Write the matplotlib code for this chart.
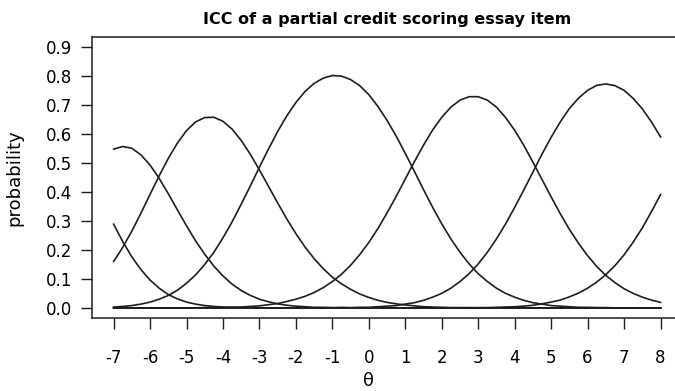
import matplotlib
matplotlib.use("Agg")
import matplotlib.pyplot as plt

# category response probabilities of the essay item, one list per score category
# (one row per unit of theta, quarter steps)
theta = [-7.0, -6.75, -6.5, -6.25,
         -6.0, -5.75, -5.5, -5.25,
         -5.0, -4.75, -4.5, -4.25,
         -4.0, -3.75, -3.5, -3.25,
         -3.0, -2.75, -2.5, -2.25,
         -2.0, -1.75, -1.5, -1.25,
         -1.0, -0.75, -0.5, -0.25,
         0.0, 0.25, 0.5, 0.75,
         1.0, 1.25, 1.5, 1.75,
         2.0, 2.25, 2.5, 2.75,
         3.0, 3.25, 3.5, 3.75,
         4.0, 4.25, 4.5, 4.75,
         5.0, 5.25, 5.5, 5.75,
         6.0, 6.25, 6.5, 6.75,
         7.0, 7.25, 7.5, 7.75,
         8.0]

p_score0 = [0.289, 0.229, 0.176, 0.132,
            0.096, 0.068, 0.046, 0.031,
            0.020, 0.013, 0.008, 0.005,
            0.003, 0.002, 0.001, 0.001,
            0.000, 0.000, 0.000, 0.000,
            0.000, 0.000, 0.000, 0.000,
            0.000, 0.000, 0.000, 0.000,
            0.000, 0.000, 0.000, 0.000,
            0.000, 0.000, 0.000, 0.000,
            0.000, 0.000, 0.000, 0.000,
            0.000, 0.000, 0.000, 0.000,
            0.000, 0.000, 0.000, 0.000,
            0.000, 0.000, 0.000, 0.000,
            0.000, 0.000, 0.000, 0.000,
            0.000, 0.000, 0.000, 0.000,
            0.000]
p_score1 = [0.548, 0.557, 0.551, 0.528,
            0.493, 0.447, 0.394, 0.338,
            0.283, 0.231, 0.185, 0.144,
            0.110, 0.082, 0.060, 0.043,
            0.030, 0.021, 0.014, 0.009,
            0.006, 0.004, 0.002, 0.002,
            0.001, 0.001, 0.000, 0.000,
            0.000, 0.000, 0.000, 0.000,
            0.000, 0.000, 0.000, 0.000,
            0.000, 0.000, 0.000, 0.000,
            0.000, 0.000, 0.000, 0.000,
            0.000, 0.000, 0.000, 0.000,
            0.000, 0.000, 0.000, 0.000,
            0.000, 0.000, 0.000, 0.000,
            0.000, 0.000, 0.000, 0.000,
            0.000]
p_score2 = [0.160, 0.209, 0.265, 0.327,
            0.392, 0.456, 0.516, 0.569,
            0.612, 0.642, 0.657, 0.658,
            0.644, 0.617, 0.578, 0.530,
            0.476, 0.419, 0.362, 0.307,
            0.256, 0.210, 0.170, 0.135,
            0.106, 0.083, 0.064, 0.048,
            0.036, 0.026, 0.019, 0.014,
            0.010, 0.007, 0.004, 0.003,
            0.002, 0.001, 0.001, 0.001,
            0.000, 0.000, 0.000, 0.000,
            0.000, 0.000, 0.000, 0.000,
            0.000, 0.000, 0.000, 0.000,
            0.000, 0.000, 0.000, 0.000,
            0.000, 0.000, 0.000, 0.000,
            0.000]
p_score3 = [0.003, 0.005, 0.008, 0.013,
            0.020, 0.030, 0.043, 0.061,
            0.085, 0.114, 0.150, 0.192,
            0.242, 0.297, 0.358, 0.421,
            0.486, 0.549, 0.609, 0.663,
            0.709, 0.747, 0.775, 0.793,
            0.802, 0.800, 0.788, 0.767,
            0.736, 0.695, 0.647, 0.593,
            0.533, 0.471, 0.408, 0.347,
            0.290, 0.238, 0.192, 0.152,
            0.118, 0.091, 0.068, 0.050,
            0.037, 0.026, 0.018, 0.013,
            0.008, 0.006, 0.004, 0.002,
            0.002, 0.001, 0.001, 0.000,
            0.000, 0.000, 0.000, 0.000,
            0.000]
p_score4 = [0.000, 0.000, 0.000, 0.000,
            0.000, 0.000, 0.000, 0.000,
            0.000, 0.000, 0.001, 0.001,
            0.001, 0.002, 0.003, 0.005,
            0.007, 0.011, 0.015, 0.022,
            0.030, 0.040, 0.053, 0.070,
            0.091, 0.116, 0.147, 0.184,
            0.226, 0.274, 0.328, 0.385,
            0.445, 0.505, 0.562, 0.614,
            0.658, 0.693, 0.717, 0.729,
            0.729, 0.717, 0.693, 0.657,
            0.613, 0.561, 0.503, 0.443,
            0.383, 0.325, 0.271, 0.223,
            0.180, 0.143, 0.112, 0.087,
            0.066, 0.050, 0.037, 0.027,
            0.019]
p_score5 = [0.000, 0.000, 0.000, 0.000,
            0.000, 0.000, 0.000, 0.000,
            0.000, 0.000, 0.000, 0.000,
            0.000, 0.000, 0.000, 0.000,
            0.000, 0.000, 0.000, 0.000,
            0.000, 0.000, 0.000, 0.000,
            0.000, 0.001, 0.001, 0.002,
            0.002, 0.004, 0.006, 0.008,
            0.013, 0.018, 0.026, 0.037,
            0.050, 0.068, 0.091, 0.118,
            0.152, 0.192, 0.238, 0.290,
            0.347, 0.407, 0.469, 0.531,
            0.589, 0.642, 0.688, 0.724,
            0.751, 0.768, 0.773, 0.767,
            0.751, 0.723, 0.687, 0.642,
            0.590]
p_score6 = [0.000, 0.000, 0.000, 0.000,
            0.000, 0.000, 0.000, 0.000,
            0.000, 0.000, 0.000, 0.000,
            0.000, 0.000, 0.000, 0.000,
            0.000, 0.000, 0.000, 0.000,
            0.000, 0.000, 0.000, 0.000,
            0.000, 0.000, 0.000, 0.000,
            0.000, 0.000, 0.000, 0.000,
            0.000, 0.000, 0.000, 0.000,
            0.000, 0.000, 0.000, 0.000,
            0.001, 0.001, 0.002, 0.003,
            0.004, 0.006, 0.009, 0.014,
            0.020, 0.027, 0.038, 0.051,
            0.068, 0.089, 0.115, 0.146,
            0.183, 0.227, 0.276, 0.332,
            0.391]

x_ticks = [-7, -6, -5, -4, -3, -2, -1, 0, 1, 2, 3, 4, 5, 6, 7, 8]
x_tick_labels = ['-7', '-6', '-5', '-4', '-3', '-2', '-1', '0',
                 '1', '2', '3', '4', '5', '6', '7', '8']
y_ticks = [0.0, 0.1, 0.2, 0.3, 0.4, 0.5, 0.6, 0.7, 0.8, 0.9]
y_tick_labels = ['0.0', '0.1', '0.2', '0.3', '0.4', '0.5', '0.6', '0.7', '0.8', '0.9']

plt.rcParams['font.family'] = ['DejaVu Sans']

fig = plt.figure(figsize=(6.75, 3.91), dpi=100)
ax = fig.add_axes([0.1359, 0.1859, 0.8751, 0.7202])

for probs in [p_score0, p_score1, p_score2, p_score3, p_score4, p_score5, p_score6]:
    ax.plot(theta, probs, color='#1e1e1e', linewidth=1.2)

ax.set_xlim(-7.6, 8.6)
ax.set_ylim(-0.036, 0.936)

ax.set_xticks(x_ticks)
ax.set_xticklabels(x_tick_labels)
ax.set_yticks(y_ticks)
ax.set_yticklabels(y_tick_labels)

for side in ['left', 'top', 'bottom', 'right']:
    ax.spines[side].set_linewidth(1.1)
    ax.spines[side].set_color('#1e1e1e')

ax.tick_params(axis='both', direction='out', length=8, width=1.0,
               color='#1e1e1e', labelsize=12)
ax.tick_params(axis='x', pad=14)
ax.tick_params(axis='y', pad=6)

ax.set_title('ICC of a partial credit scoring essay item',
             fontsize=11.5, fontweight='bold', pad=9)
ax.set_xlabel('\u03b8', fontsize=13)
ax.xaxis.set_label_coords(0.4686, -0.19)
ax.set_ylabel('probability', fontsize=13)
ax.yaxis.set_label_coords(-0.116, 0.5)

fig.savefig('out.png', dpi=100)
